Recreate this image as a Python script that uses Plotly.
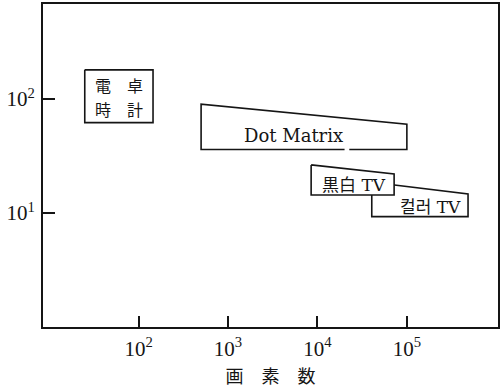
import numpy as np
import plotly.graph_objects as go

# Pixel count (x) vs. value (y) regions for display applications
calc_x = [25, 145, 145, 25, 25]
calc_y = [180, 180, 62, 62, 180]

# Dot-matrix region, drawn as an open outline (small break in the lower edge)
dot_x = [22700, 100000, 100000, 500, 500, 20100]
dot_y = [36, 36, 60, 90, 36, 36]

bw_x = [8500, 72000, 72000, 8500, 8500]
bw_y = [26.4, 22.0, 14.4, 14.4, 26.4]

color_x = [40500, 483000, 483000, 40500, 40500]
color_y = [18.6, 14.7, 9.3, 9.3, 18.6]

# Label text and anchor points (data units)
labels = ["電　卓", "時　計", "Dot Matrix", "黒白 TV", "컬러 TV"]
label_x = [60, 60, 5450, 25900, 185000]
label_y = [128, 80, 48.3, 17.6, 11.3]
label_size = [16, 16, 18, 17, 17]

tick_x = [1e2, 1e3, 1e4, 1e5]
tick_x_text = ["10<sup>2</sup>", "10<sup>3</sup>", "10<sup>4</sup>", "10<sup>5</sup>"]
tick_y = [1e1, 1e2]
tick_y_text = ["10<sup>1</sup>", "10<sup>2</sup>"]

INK = "#151515"
SERIF_CJK = "DejaVu Serif, Noto Sans CJK JP, Noto Sans CJK KR"

fig = go.Figure()

outline = dict(color=INK, width=1.6)
fig.add_trace(go.Scatter(x=calc_x, y=calc_y, mode="lines", line=outline,
                         fill="toself", fillcolor="white", hoverinfo="skip"))
fig.add_trace(go.Scatter(x=dot_x, y=dot_y, mode="lines", line=outline, hoverinfo="skip"))
fig.add_trace(go.Scatter(x=color_x, y=color_y, mode="lines", line=outline,
                         fill="toself", fillcolor="white", hoverinfo="skip"))
fig.add_trace(go.Scatter(x=bw_x, y=bw_y, mode="lines", line=outline,
                         fill="toself", fillcolor="white", hoverinfo="skip"))

for t, lx, ly, fs in zip(labels, label_x, label_y, label_size):
    fig.add_annotation(x=np.log10(lx), y=np.log10(ly), xref="x", yref="y",
                       text=t, showarrow=False,
                       font=dict(family=SERIF_CJK, size=fs, color=INK))

axis_common = dict(
    type="log", showgrid=False, zeroline=False,
    showline=True, linecolor=INK, linewidth=2, mirror=True,
    ticks="inside", tickcolor=INK, tickwidth=1.5,
    tickmode="array",
    tickfont=dict(family="Liberation Serif, DejaVu Serif", size=21, color=INK),
)

fig.update_xaxes(**axis_common, range=[0.931, 6.019], ticklen=11,
                 tickvals=tick_x, ticktext=tick_x_text, ticklabelstandoff=2,
                 title=dict(text="画　素　数", standoff=10,
                            font=dict(family="Noto Sans CJK JP", size=18, color=INK)))
fig.update_yaxes(**axis_common, range=[0.0, 2.833], ticklen=12,
                 tickvals=tick_y, ticktext=tick_y_text, ticklabelstandoff=2)

fig.update_layout(
    width=501, height=388,
    margin=dict(l=43, r=1, t=4, b=61),
    paper_bgcolor="white", plot_bgcolor="white",
    showlegend=False,
)

fig.write_html("out.html")
